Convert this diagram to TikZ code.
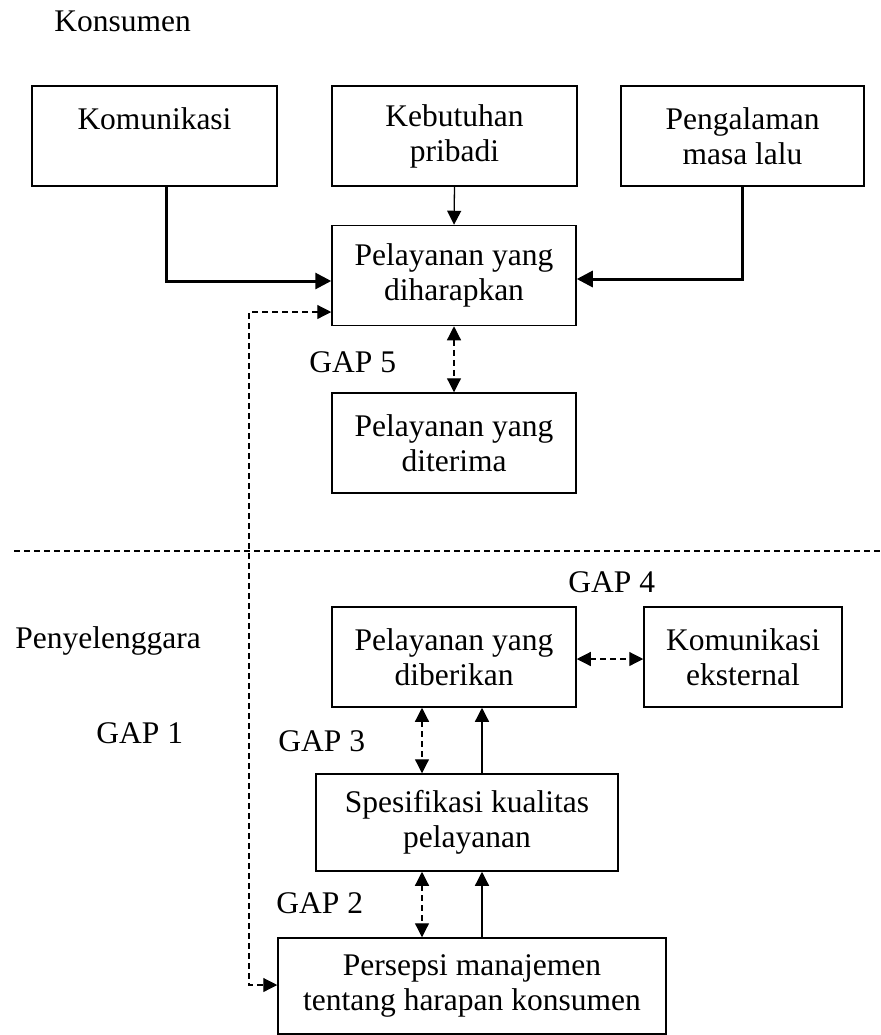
\documentclass[tikz,border=0pt]{standalone}
\usepackage{fontspec}
\setmainfont{Liberation Serif}
\usetikzlibrary{arrows.meta}

\begin{document}
\begin{tikzpicture}[x=0.5pt, y=-0.5pt, >={Triangle[length=7pt, width=7pt]},
  font=\fontsize{15.75}{17.5}\selectfont,
  box/.style={draw, line width=0.75pt, align=center, inner sep=0pt, minimum height=50pt},
  label/.style={anchor=base west, inner sep=0pt},
  gap/.style={<->, line width=0.6pt, dash pattern=on 3pt off 2pt},
  tebal/.style={->, line width=1.5pt, >={Triangle[length=8pt, width=8pt]}},
  tipis/.style={->, line width=0.65pt}]
\useasboundingbox (0,0) rectangle (881,1035);
% konsumen
\node[label] (konsumen) at (54,31) {Konsumen};
\node[box, minimum width=122.5pt] (komunikasi) at (154.5,136) {Komunikasi\\~};
\node[box, minimum width=122.5pt] (kebutuhan) at (454.5,136) {Kebutuhan\\pribadi};
\node[box, minimum width=121.5pt] (pengalaman) at (742.5,136) {Pengalaman\\masa lalu};
\node[box, minimum width=122pt] (harapan) at (454,275.5) {Pelayanan yang\\diharapkan};
\node[box, minimum width=122pt] (diterima) at (454,443) {Pelayanan yang\\diterima};
\node[label] (gap5) at (309,372) {GAP 5};
\draw[tebal] (komunikasi.south -| 166,0) |- (harapan.west |- 0,281);
\draw[tebal] (pengalaman.south) |- (harapan.east |- 0,279);
\draw[tipis] (kebutuhan.south) -- (harapan.north);
\draw[gap] (harapan.south) -- (diterima.north);
\draw[line width=0.6pt, dash pattern=on 3pt off 2pt] (14,551) -- (881,551);
% penyelenggara
\node[label] (penyelenggara) at (15,648) {Penyelenggara};
\node[label] (gap1) at (96,743) {GAP 1};
\node[box, minimum width=122pt] (diberikan) at (454,657) {Pelayanan yang\\diberikan};
\node[box, minimum width=99pt] (eksternal) at (743,657) {Komunikasi\\eksternal};
\node[label] (gap4) at (568,592) {GAP 4};
\node[box, minimum width=151pt, minimum height=48.5pt] (spesifikasi) at (467,822.5) {Spesifikasi kualitas\\pelayanan};
\node[label] (gap3) at (278,751) {GAP 3};
\node[box, minimum width=194pt, minimum height=48pt] (persepsi) at (472,986) {Persepsi manajemen\\tentang harapan konsumen};
\node[label] (gap2) at (276,913) {GAP 2};
\draw[gap] (diberikan.east |- 0,659) -- (eksternal.west |- 0,659);
\draw[gap] (diberikan.south -| 422,0) -- (spesifikasi.north -| 422,0);
\draw[tipis] (spesifikasi.north -| 482,0) -- (diberikan.south -| 482,0);
\draw[gap] (spesifikasi.south -| 422,0) -- (persepsi.north -| 422,0);
\draw[tipis] (persepsi.north -| 482,0) -- (spesifikasi.south -| 482,0);
\draw[gap] (harapan.west |- 0,312) -| (249,985) -- (persepsi.west |- 0,985);
\end{tikzpicture}
\end{document}
